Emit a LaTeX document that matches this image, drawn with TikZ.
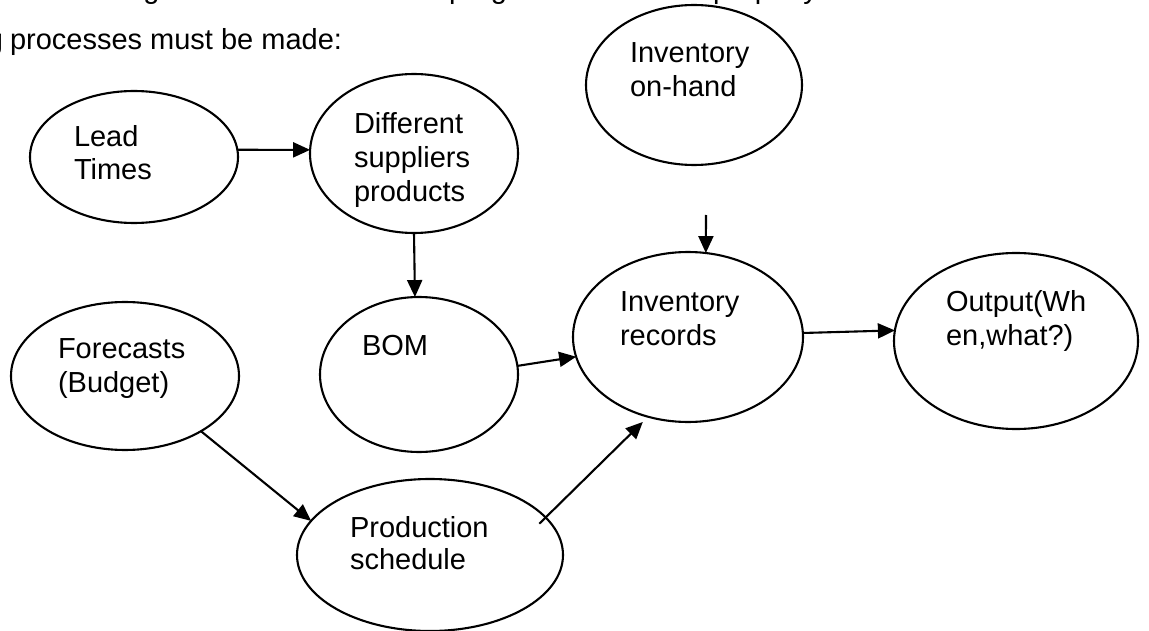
\documentclass[tikz,border=0pt]{standalone}
\usepackage{fontspec}
\setmainfont{Liberation Sans}
\usetikzlibrary{shapes.geometric,arrows.meta,calc}
\begin{document}
\begin{tikzpicture}[x=1pt,y=-1pt,
  bubble/.style={draw, ellipse, line width=2.1pt, inner sep=0pt, outer sep=0pt},
  txt/.style={anchor=base west, inner sep=0pt, outer sep=0pt,
              font=\fontsize{29}{33}\selectfont},
  arr/.style={line width=2.1pt, -{Triangle[length=17pt,width=15pt]}}]
\useasboundingbox (0,0) rectangle (1149,631);
\clip (0,0) rectangle (1149,631);

% running text above the chart
\node[txt, anchor=base east] (l1a) at (441,-1.5) {scheduling. In order for the MRP};
\node[txt] (l1b) at (449,-1.5) {program to function};
\node[txt] (l1c) at (713,-1.5) {properly the};
\node[txt, anchor=base east] (l2a) at (3,50) {following};
\node[txt] (l2b) at (10,50) {processes must be made:};

% process bubbles
\node[bubble, minimum width=208pt, minimum height=132pt] (lead)    at (134,157)   {};
\node[bubble, minimum width=208pt, minimum height=159pt] (diff)    at (414,153.5) {};
\node[bubble, minimum width=216pt, minimum height=160pt] (onhand)  at (694,85)    {};
\node[bubble, minimum width=230pt, minimum height=170pt] (records) at (688,337)   {};
\node[bubble, minimum width=244pt, minimum height=176pt] (output)  at (1016,341)  {};
\node[bubble, minimum width=198pt, minimum height=155pt] (bom)     at (419,374.5) {};
\node[bubble, minimum width=228pt, minimum height=148pt] (fore)    at (125,376)   {};
\node[bubble, minimum width=266pt, minimum height=152pt] (prod)    at (430,555)   {};

% bubble texts
\node[txt] (lead1) at (74,147) {Lead};
\node[txt] (lead2) at (74,180) {Times};
\node[txt] (diff1) at (354,134) {Different};
\node[txt] (diff2) at (354,168) {suppliers};
\node[txt] (diff3) at (354,202) {products};
\node[txt] (oh1) at (630,63) {Inventory};
\node[txt] (oh2) at (630,97) {on-hand};
\node[txt] (rec1) at (620,312) {Inventory};
\node[txt] (rec2) at (620,345) {records};
\node[txt] (out1) at (946,312) {Output(Wh};
\node[txt] (out2) at (946,345) {en,what?)};
\node[txt] (bom1) at (362,355) {BOM};
\node[txt] (fc1) at (58,358) {Forecasts};
\node[txt] (fc2) at (58,392) {(Budget)};
\node[txt] (ps1) at (350,537) {Production};
\node[txt] (ps2) at (350,569) {schedule};

% connectors
\coordinate (ohtail) at (706,215);
\draw[arr] (lead.4) -- (diff.178);
\draw[arr] (diff.south) -- (bom.93);
\draw[arr] (bom.5.5) -- (records.190);
\draw[arr] (records.2.5) -- (output.175);
\draw[arr] (fore.-36) -- (prod.164);
\draw[arr] ($(prod.center)!0.92!(prod.16)$) -- ($(records.center)!1.074!(records.242)$);
\draw[arr] (ohtail) -- (records.78);
\end{tikzpicture}
\end{document}
